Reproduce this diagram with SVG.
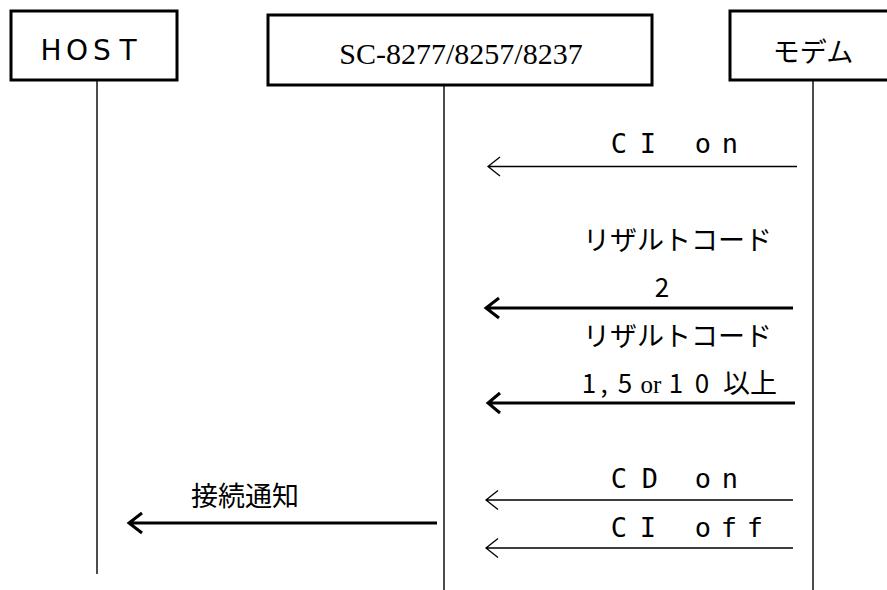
<svg xmlns="http://www.w3.org/2000/svg" width="887" height="590" viewBox="0 0 887 590">
<style>
.box{fill:#fff;stroke:#000;stroke-width:3}
.life{stroke:#000;stroke-width:1.4;fill:none}
.thin{stroke:#000;stroke-width:1.3;fill:none}
.thick{stroke:#000;stroke-width:3;fill:none}
.mono{font-family:"DejaVu Sans Mono",monospace;font-size:27px;fill:#000;text-anchor:middle}
.jp{font-family:"Noto Sans CJK JP",sans-serif;font-size:27px;fill:#000;text-anchor:middle}
.sans{font-family:"DejaVu Sans",sans-serif;fill:#000;text-anchor:middle}
.serif{font-family:"Liberation Serif",serif;fill:#000;text-anchor:middle}
</style>
<rect width="887" height="590" fill="#fff"/>
<g id="host">
<rect class="box" x="11" y="11" width="166" height="69"/>
<text class="sans" style="font-size:28px" y="60" x="51 77 102 128">HOST</text>
<line class="life" x1="97" y1="80" x2="97" y2="574"/>
</g>
<g id="sc">
<rect class="box" x="268" y="15" width="384" height="70"/>
<text class="serif" style="font-size:30px" x="461" y="64">SC-8277/8257/8237</text>
<line class="life" x1="444" y1="85" x2="444" y2="590"/>
</g>
<g id="modem">
<rect class="box" x="730" y="11" width="170" height="69"/>
<text class="jp" x="813" y="62">モデム</text>
<line class="life" x1="813" y1="80" x2="813" y2="590"/>
</g>
<g id="connectors">
<path class="thin" d="M797 166.5H488M500 157L488 166.5L500 176"/>
<path class="thick" d="M793 308H486M499 298L486 308L499 318"/>
<path class="thick" d="M795 403H488M500 393L488 403L500 413"/>
<path class="thin" d="M793 500H486M498 490.5L486 500L498 509.5"/>
<path class="thin" d="M793 548H486M498 538.5L486 548L498 557.5"/>
<path class="thick" d="M437 523H129M142 513L129 523L142 533"/>
</g>
<g id="labels">
<text class="mono" y="153" x="619 648 703 730">CIon</text>
<text class="jp" x="677.5" y="250">リザルトコード</text>
<text class="jp" style="font-size:26px" x="662" y="297">2</text>
<text class="jp" x="677.5" y="346">リザルトコード</text>
<text class="jp" style="font-size:26px" y="393" x="589 604 625">1,5</text>
<text class="serif" style="font-size:25px" x="651" y="393">or</text>
<text class="jp" style="font-size:26px" y="393" x="676 702">10</text>
<text class="jp" x="750" y="393">以上</text>
<text class="mono" y="488" x="619 650 703 730">CDon</text>
<text class="mono" y="537" x="619 648 703 729 755">CIoff</text>
<text class="jp" x="245" y="506">接続通知</text>
</g>
</svg>
